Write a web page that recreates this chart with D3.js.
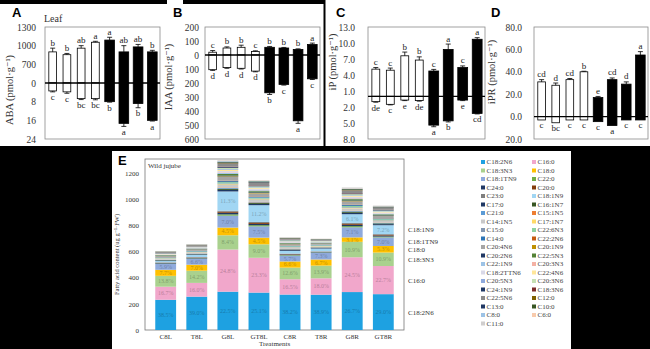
<!DOCTYPE html>
<html><head><meta charset="utf-8">
<script src="https://cdn.jsdelivr.net/npm/d3@7"></script>
<style>
body{margin:0;background:#fff}
svg{display:block}
</style></head><body>
<svg id="fig" width="650" height="349"></svg>
<script>
const serif = "'Liberation Serif','DejaVu Serif',serif";
const sans = "'Liberation Sans',Arial,sans-serif";

const treatments = ["C8L","T8L","G8L","GT8L","C8R","T8R","G8R","GT8R"];

// panel A - ABA (upper leaf, lower root)
const abaTicks = [1300, 1000, 700, 0, -8, -16, -24];
const abaUp = [900, 855, 960, 1055, 1090, 900, 980, 900];
const abaUpErr = [60, 20, 40, 15, 45, 100, 40, 25];
const abaDown = [3.4, 3.8, 6.7, 6.7, 8.0, 17.3, 8.8, 16.0];
const abaDownErr = [0.4, 0.6, 0.4, 0.5, 0.2, 1.3, 1.8, 0.3];
const abaLetUp = ["b","b","ab","a","a","ab","ab","b"];
const abaLetDown = ["c","c","bc","bc","b","a","b","a"];

// panel B - IAA
const iaaTicks = [200, 100, 0, -100, -200, -300, -400, -500, -600];
const iaaUp = [20, 50, 55, 25, 55, 50, 40, 75];
const iaaUpErr = [12, 8, 15, 5, 6, 4, 4, 10];
const iaaDown = [105, 90, 95, 115, 270, 210, 470, 170];
const iaaDownErr = [5, 5, 5, 5, 12, 5, 18, 5];
const iaaLetUp = ["c","b","b","c","b","b","b","a"];
const iaaLetDown = ["d","d","d","d","b","c","a","c"];

// panel C - iP
const ipTicks = [13, 10, 7, 4, 1, -2, -5, -8];
const ipUp = [5.1, 4.9, 7.6, 6.8, 4.75, 8.8, 5.4, 10.7];
const ipUpErr = [0.3, 0.4, 0.7, 0.6, 0.3, 1.0, 0.3, 0.3];
const ipDown = [1.0, 1.5, 0.7, 0.8, 5.4, 4.6, 0.7, 3.2];
const ipDownErr = [0.1, 0.1, 0.1, 0.1, 0.3, 0.2, 0.1, 0.1];
const ipLetUp = ["c","c","b","b","c","a","c","a"];
const ipLetDown = ["de","c","e","de","a","b","e","cd"];

// panel D - iPR
const iprTicks = [80, 60, 40, 20, 0, -20];
const iprUp = [31, 28, 33, 40, 17, 33, 29, 55];
const iprUpErr = [2, 2, 1, 0.5, 1, 1.5, 2, 3];
const iprDown = [3, 5.5, 3, 3, 4.5, 8, 3, 3];
const iprDownErr = [0, 0, 0, 0, 0, 0, 0, 0];
const iprLetUp = ["cd","d","cd","b","e","cd","d","a"];
const iprLetDown = ["c","bc","c","c","c","a","c","c"];

// panel E - fatty acids, legend order = stack order (bottom first)
const fattyAcids = ["C18:2N6","C16:0","C18:3N3","C18:0","C18:1TN9","C22:0","C24:0","C20:0","C23:0","C18:1N9",
  "C17:0","C16:1N7","C21:0","C15:1N5","C14:1N5","C17:1N7","C15:0","C22:6N3","C14:0","C22:2N6",
  "C20:4N6","C20:1N9","C20:2N6","C22:5N3","C22:1N9","C20:3N3","C18:2TTN6","C22:4N6","C20:5N3","C20:3N6",
  "C24:1N9","C18:3N6","C22:5N6","C12:0","C13:0","C10:0","C8:0","C6:0","C11:0"];
const faColors = ["#1ea1e1","#f1a7cb","#a9d18e","#ffc000","#8faadc","#70ad47","#203864","#843c0c","#7f7f7f","#a1d6f3",
  "#1f3864","#375623","#5b9bd5","#ed7d31","#c9c9c9","#ffd966","#8497b0","#8ed1a0","#2e75b6","#c55a11",
  "#a5a5a5","#bf9000","#203864","#548235","#9dc3e6","#f4b1a4","#d9d9e8","#ffe699","#8faadc","#c5e0b4",
  "#1f3864","#7b2b2b","#8c8c8c","#7f6000","#203864","#375623","#9dc3e6","#f8cbad","#d0cece"];
// ug/g FW per treatment (C8L, T8L, G8L, GT8L, C8R, T8R, G8R, GT8R)
const faValues = [
  [231, 255, 293, 286, 271, 270, 290, 274],
  [100, 105, 322, 266, 117, 125, 266, 215],
  [83, 93, 109, 103, 89, 97, 118, 103],
  [46, 46, 59, 51, 47, 47, 34, 50],
  [45, 45, 91, 86, 44, 51, 77, 66],
  [3, 3, 10, 9, 4, 3, 9, 6],
  [4, 4, 12, 10, 5, 3, 10, 8],
  [2, 3, 8, 7, 3, 2, 7, 5],
  [3, 3, 8, 8, 4, 3, 8, 6],
  [10, 18, 147, 128, 21, 22, 66, 68],
  [4, 4, 12, 10, 6, 4, 11, 8],
  [3, 3, 8, 7, 4, 3, 8, 6],
  [2, 2, 6, 5, 3, 2, 5, 4],
  [1, 1, 4, 3, 2, 1, 3, 2],
  [7, 8, 20, 16, 10, 7, 18, 12],
  [2, 2, 5, 4, 2, 2, 4, 3],
  [2, 2, 6, 5, 3, 2, 5, 4],
  [4, 4, 10, 8, 5, 4, 9, 7],
  [3, 3, 8, 7, 4, 3, 7, 5],
  [1, 1, 3, 3, 2, 1, 3, 2],
  [9, 10, 30, 22, 8, 8, 24, 17],
  [1, 1, 4, 3, 2, 1, 3, 2],
  [2, 2, 6, 5, 3, 2, 5, 4],
  [4, 4, 12, 9, 5, 4, 10, 7],
  [3, 3, 8, 7, 4, 3, 6, 5],
  [1, 1, 4, 3, 2, 1, 3, 2],
  [3, 4, 10, 8, 5, 3, 9, 7],
  [2, 2, 8, 6, 3, 2, 6, 4],
  [2, 2, 6, 5, 3, 2, 5, 4],
  [3, 3, 10, 8, 5, 3, 9, 7],
  [2, 2, 6, 5, 3, 2, 5, 4],
  [1, 1, 4, 3, 2, 1, 3, 2],
  [7, 8, 22, 18, 6, 7, 20, 15],
  [1, 1, 4, 3, 2, 1, 3, 2],
  [1, 1, 5, 4, 2, 1, 4, 3],
  [2, 2, 6, 5, 3, 2, 5, 4],
  [1, 1, 5, 4, 2, 1, 4, 3],
  [1, 1, 4, 3, 2, 1, 3, 2],
  [1, 2, 5, 3, 2, 1, 4, 3]
];
const eTicks = [0, 200, 400, 600, 800, 1000, 1200];

// percentage labels written on the bars
const pct18_2n6 = ["38.5%","39.0%","22.5%","25.1%","38.2%","38.9%","26.7%","29.0%"];
const pct16_0 = ["16.7%","16.0%","24.8%","23.3%","16.5%","18.0%","24.5%","22.7%"];
const pct18_3n3 = ["13.8%","14.2%","8.4%","9.0%","12.6%","13.9%","10.9%","10.9%"];
const pct18_0 = ["7.7%","7.0%","4.5%","4.5%","6.6%","6.7%","3.1%","5.3%"];
const pct18_1tn9 = ["5.9%","6.6%","7.0%","7.5%","5.7%","7.3%","7.1%","7.0%"];
const pct18_1n9 = ["","","11.3%","11.2%","","","6.1%","7.2%"];
const labelledAcids = ["C18:2N6","C16:0","C18:3N3","C18:0","C18:1TN9","C18:1N9"];
const labelledPcts = [pct18_2n6, pct16_0, pct18_3n3, pct18_0, pct18_1tn9, pct18_1n9];
const sideLabels = ["C18:1N9","C18:1TN9","C18:0","C18:3N3","C16:0","C18:2N6"];

const svg = d3.select("#fig");

// black frame pieces of the composite figure
svg.append("rect").attr("x", 0).attr("y", 146).attr("width", 650).attr("height", 203).attr("fill", "#000");
svg.append("rect").attr("x", 112).attr("y", 151).attr("width", 459).attr("height", 198).attr("fill", "#fff");
svg.append("rect").attr("x", 0).attr("y", 0).attr("width", 167).attr("height", 4).attr("fill", "#000");
svg.append("rect").attr("x", 183).attr("y", 0).attr("width", 142).attr("height", 4).attr("fill", "#000");
svg.append("line").attr("x1", 324.5).attr("x2", 324.5).attr("y1", 0).attr("y2", 146).attr("stroke", "#000").attr("stroke-width", 2);

const tickIdx = n => d3.scaleLinear().domain([0, n - 1]).range([27, 139]);

const panels = [
  { letter: "A", lx: 12, left: 45, right: 160, pad: 9, title: "ABA  (pmol·g⁻¹)", tx: 13, ty: 90,
    ticks: abaTicks, fmt: d => String(Math.abs(d)),
    y: d3.scaleLinear().domain(abaTicks).range(abaTicks.map((d, i) => tickIdx(abaTicks.length)(i))),
    up: abaUp, upErr: abaUpErr, down: abaDown, downErr: abaDownErr, letUp: abaLetUp, letDown: abaLetDown },
  { letter: "B", lx: 173, left: 205, right: 320, pad: 6, title: "IAA (pmol·g⁻¹)", tx: 172, ty: 77,
    ticks: iaaTicks, fmt: d => String(Math.abs(d)),
    y: d3.scaleLinear().domain([200, -600]).range([27, 139]),
    up: iaaUp, upErr: iaaUpErr, down: iaaDown, downErr: iaaDownErr, letUp: iaaLetUp, letDown: iaaLetDown },
  { letter: "C", lx: 336, left: 368, right: 485, pad: 13, title: "iP (pmol·g⁻¹)", tx: 336, ty: 62,
    ticks: ipTicks, fmt: d => d3.format(".1f")(Math.abs(d)),
    y: d3.scaleLinear().domain([13, -8]).range([27, 139]),
    up: ipUp, upErr: ipUpErr, down: ipDown, downErr: ipDownErr, letUp: ipLetUp, letDown: ipLetDown },
  { letter: "D", lx: 491, left: 534, right: 648, pad: 12, title: "iPR (pmol·g⁻¹)", tx: 495, ty: 72,
    ticks: iprTicks, fmt: d => d3.format(".1f")(Math.abs(d)),
    y: d3.scaleLinear().domain([80, -20]).range([27, 139]),
    up: iprUp, upErr: iprUpErr, down: iprDown, downErr: iprDownErr, letUp: iprLetUp, letDown: iprLetDown }
];

panels.forEach(p => {
  const g = svg.append("g");
  const x = d3.scaleBand().domain(treatments).range([p.left, p.right]).paddingInner(0.32).paddingOuter(0.2);
  const y = p.y;
  const yTop = y(p.ticks[0]), yBot = y(p.ticks[p.ticks.length - 1]);
  const idx = d3.range(treatments.length);
  const bw = i => i < 4 ? x.bandwidth() * 0.8 : x.bandwidth();
  const cx = i => x(treatments[i]) + x.bandwidth() / 2;

  g.append("rect").attr("x", p.left).attr("y", yTop).attr("width", p.right - p.left).attr("height", yBot - yTop)
    .attr("fill", "none").attr("stroke", "#8a8a8a").attr("stroke-width", 0.8);

  const ax = g.append("g").attr("transform", `translate(${p.left},0)`)
    .call(d3.axisLeft(y).tickValues(p.ticks).tickFormat(p.fmt).tickSize(0).tickPadding(p.pad));
  ax.select(".domain").remove();
  ax.selectAll("text").attr("font-family", serif).attr("font-size", 9.5).attr("fill", "#333");

  g.append("text").attr("transform", `translate(${p.tx},${p.ty}) rotate(-90)`).attr("text-anchor", "middle")
    .attr("font-family", serif).attr("font-size", 10.5).attr("fill", "#333").text(p.title);
  g.append("text").attr("x", p.lx).attr("y", 17).attr("font-family", sans).attr("font-weight", "bold")
    .attr("font-size", 13).attr("fill", "#000").text(p.letter);

  // upper bars
  g.selectAll(".up").data(idx).join("rect")
    .attr("x", i => cx(i) - bw(i) / 2).attr("width", bw)
    .attr("y", i => y(p.up[i])).attr("height", i => y(0) - y(p.up[i]))
    .attr("fill", i => i < 4 ? "#fff" : "#000").attr("stroke", "#000").attr("stroke-width", 0.8);
  // lower bars
  g.selectAll(".down").data(idx).join("rect")
    .attr("x", i => cx(i) - bw(i) / 2).attr("width", bw)
    .attr("y", y(0)).attr("height", i => y(-p.down[i]) - y(0))
    .attr("fill", i => i < 4 ? "#fff" : "#000").attr("stroke", "#000").attr("stroke-width", 0.8);

  // error bars
  const eb = (i, v0, v1) => {
    g.append("line").attr("x1", cx(i)).attr("x2", cx(i)).attr("y1", y(v0)).attr("y2", y(v1))
      .attr("stroke", "#000").attr("stroke-width", 0.8);
    g.append("line").attr("x1", cx(i) - 2.5).attr("x2", cx(i) + 2.5).attr("y1", y(v1)).attr("y2", y(v1))
      .attr("stroke", "#000").attr("stroke-width", 0.8);
  };
  idx.forEach(i => {
    if (p.upErr[i] > 0) eb(i, p.up[i], p.up[i] + p.upErr[i]);
    if (p.downErr[i] > 0) eb(i, -p.down[i], -(p.down[i] + p.downErr[i]));
  });

  g.append("line").attr("x1", p.left).attr("x2", p.right).attr("y1", y(0)).attr("y2", y(0))
    .attr("stroke", "#000").attr("stroke-width", 1.4);

  g.selectAll(".lu").data(idx).join("text")
    .attr("x", cx).attr("y", i => y(p.up[i] + p.upErr[i]) - 2.5).attr("text-anchor", "middle")
    .attr("font-family", serif).attr("font-size", 9).attr("fill", "#222").text(i => p.letUp[i]);
  g.selectAll(".ld").data(idx).join("text")
    .attr("x", cx).attr("y", i => y(-(p.down[i] + p.downErr[i])) + 8.5).attr("text-anchor", "middle")
    .attr("font-family", serif).attr("font-size", 9).attr("fill", "#222").text(i => p.letDown[i]);
});

svg.append("text").attr("x", 44).attr("y", 22).attr("font-family", serif).attr("font-size", 10)
  .attr("fill", "#333").text("Leaf");

// ---- panel E: stacked fatty acid composition ----
const eLeft = 145, eRight = 404, eTop = 159, eBottom = 330;
const xE = d3.scaleBand().domain(treatments).range([eLeft, eRight]).padding(0.33);
const yE = d3.scaleLinear().domain([0, 1307]).range([eBottom, eTop]);

const rows = treatments.map((t, j) => {
  const r = { treatment: t };
  fattyAcids.forEach((fa, k) => { r[fa] = faValues[k][j]; });
  return r;
});
const stacked = d3.stack().keys(fattyAcids)(rows);

const gE = svg.append("g");
gE.append("rect").attr("x", eLeft).attr("y", eTop).attr("width", eRight - eLeft).attr("height", eBottom - eTop)
  .attr("fill", "none").attr("stroke", "#777").attr("stroke-width", 0.8);

gE.selectAll(".layer").data(stacked).join("g")
  .attr("fill", (d, k) => faColors[k])
  .selectAll("rect").data(d => d).join("rect")
  .attr("x", d => xE(d.data.treatment)).attr("width", xE.bandwidth())
  .attr("y", d => yE(d[1])).attr("height", d => yE(d[0]) - yE(d[1]));

labelledAcids.forEach((fa, m) => {
  const layer = stacked[fattyAcids.indexOf(fa)];
  const col = d3.color(faColors[fattyAcids.indexOf(fa)]).darker(1.1);
  layer.forEach((d, j) => {
    if (!labelledPcts[m][j]) return;
    gE.append("text").attr("x", xE(d.data.treatment) + xE.bandwidth() / 2)
      .attr("y", yE((d[0] + d[1]) / 2)).attr("dy", "0.33em").attr("text-anchor", "middle")
      .attr("font-family", serif).attr("font-size", 6).attr("fill", col).attr("fill-opacity", 0.75)
      .text(labelledPcts[m][j]);
  });
});

const axE = gE.append("g").attr("transform", `translate(${eLeft},0)`)
  .call(d3.axisLeft(yE).tickValues(eTicks).tickFormat(d3.format("d")).tickSize(0).tickPadding(6));
axE.select(".domain").remove();
axE.selectAll("text").attr("font-family", serif).attr("font-size", 7).attr("fill", "#333");

const axX = gE.append("g").attr("transform", `translate(0,${eBottom})`)
  .call(d3.axisBottom(xE).tickSize(0).tickPadding(4));
axX.select(".domain").remove();
axX.selectAll("text").attr("font-family", serif).attr("font-size", 7).attr("fill", "#333");

gE.append("text").attr("x", (eLeft + eRight) / 2).attr("y", 346).attr("text-anchor", "middle")
  .attr("font-family", serif).attr("font-size", 7).attr("fill", "#333").text("Treatments");
gE.append("text").attr("transform", `translate(119,${(eTop + eBottom) / 2 + 10}) rotate(-90)`)
  .attr("text-anchor", "middle").attr("font-family", serif).attr("font-size", 6.5).attr("fill", "#333")
  .text("Fatty acid content (ug g⁻¹·FW)");
gE.append("text").attr("x", eLeft + 3).attr("y", 168).attr("font-family", serif).attr("font-size", 7)
  .attr("fill", "#333").text("Wild jujube");
gE.append("text").attr("x", 118).attr("y", 165).attr("font-family", sans).attr("font-weight", "bold")
  .attr("font-size", 13).attr("fill", "#000").text("E");

// labels on the right side of the last bar
const last = treatments.length - 1;
sideLabels.forEach(fa => {
  const d = stacked[fattyAcids.indexOf(fa)][last];
  gE.append("text").attr("x", eRight + 4).attr("y", yE((d[0] + d[1]) / 2)).attr("dy", "0.35em")
    .attr("font-family", serif).attr("font-size", 7).attr("fill", "#333").text(fa);
});

// legend, two columns in stack order
const leg = gE.selectAll(".leg").data(fattyAcids).join("g")
  .attr("transform", (d, k) => `translate(${k % 2 === 0 ? 481 : 532},${162 + Math.floor(k / 2) * 8.5})`);
leg.append("rect").attr("x", 0).attr("y", -2).attr("width", 4).attr("height", 4).attr("fill", (d, k) => faColors[k]);
leg.append("text").attr("x", 5.5).attr("y", 0).attr("dy", "0.35em").attr("font-family", serif)
  .attr("font-size", 7).attr("fill", "#444").text(d => d);
</script></body></html>
